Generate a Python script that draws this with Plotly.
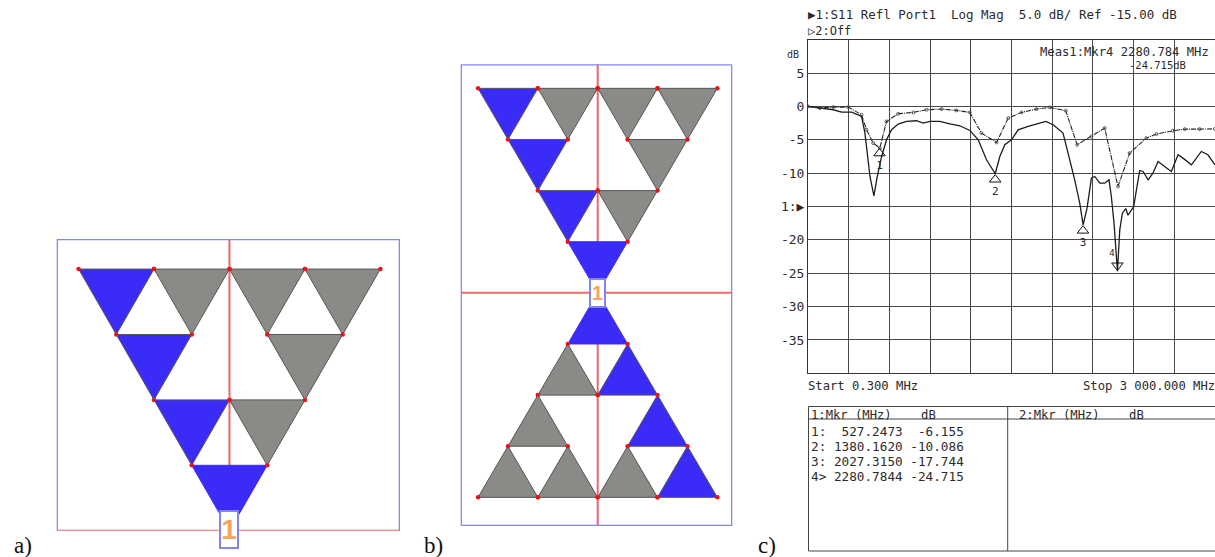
import plotly.graph_objects as go

W, H = 1215, 557

# measured S11 trace (MHz, dB)
solid_mhz = [0.3, 88, 187, 248, 322, 395, 420, 457, 486, 511, 543, 579, 616, 665, 727, 800, 849, 899, 972, 1046,
             1119, 1193, 1255, 1316, 1380, 1414, 1451, 1500, 1549, 1623, 1684, 1753, 1807, 1880, 1917, 1966, 2003,
             2028, 2057, 2089, 2114, 2151, 2187, 2219, 2236, 2256, 2281, 2298, 2317, 2342, 2359, 2384, 2401, 2421,
             2445, 2470, 2507, 2543, 2580, 2629, 2678, 2728, 2764, 2826, 2899, 2948, 3000]
solid_db = [0, -0.25, -0.5, -0.85, -0.85, -1.5, -4, -10.5, -13.4, -10.5, -7.5, -5, -3.5, -2.65, -2.25, -2.15, -2.5,
            -2.25, -2.25, -2.6, -2.9, -3.6, -5, -8, -10.09, -7.5, -5.75, -5, -3.5, -3, -2.6, -2.25, -2.75, -4, -7,
            -11, -14.5, -17.74, -15.25, -10.75, -10.5, -11.5, -11.5, -11, -13.5, -17.55, -24.7, -18.55, -16.05, -15.3,
            -16.3, -15.55, -15, -12.5, -9.6, -9.75, -11, -10, -8.25, -9, -9.75, -7.25, -7.75, -8.75, -6.75, -7.25,
            -8.75]

# simulated trace (MHz, dB)
dashed_mhz = [0.3, 88, 187, 297, 395, 432, 481, 530, 579, 665, 776, 874, 986, 1095, 1193, 1279, 1390, 1476, 1574,
              1684, 1782, 1900, 1984, 2089, 2187, 2285, 2371, 2494, 2568, 2690, 2777, 2887, 3000]
dashed_db = [0, -0.25, -0.1, -0.1, -1.25, -3.5, -5.5, -6.25, -2.25, -1.1, -0.9, -0.5, -0.4, -0.6, -0.9, -4, -5.4,
             -1.75, -0.9, -0.4, -0.15, -0.65, -5.75, -4.5, -3.25, -12, -7, -4.75, -4.15, -3.65, -3.4, -3.4, -3.35]

# analyser markers
marker_names = ["1", "2", "3", "4\u00a0\u00a0"]
marker_mhz = [527.2473, 1380.1620, 2027.3150, 2280.7844]
marker_db = [-6.155, -10.086, -17.744, -24.715]

db_ticks = [5, 0, -5, -10, -15, -20, -25, -30, -35]
db_labels = ["5", "0", "-5", "-10", "1:\u25b6", "-20", "-25", "-30", "-35"]

table_rows = ["1:  527.2473  -6.155", "2: 1380.1620 -10.086", "3: 2027.3150 -17.744", "4> 2280.7844 -24.715"]

# gasket triangles: row, centre and whether it is on the excited (blue) path
gasket_rows = [0, 0, 0, 0, 1, 1, 2, 2, 3]
gasket_cols = [-3, -1, 1, 3, -2, 2, -1, 1, 0]
gasket_top_blue = [True, False, False, False, True, False, True, False, True]
gasket_bottom_blue = [False, False, False, True, False, True, False, True, True]

BLUE = "#3a2cf6"
GRAY = "#8a8b87"
RED = "#e9686a"
FRAME = "#8484ee"
DOT = "#e8141c"
MONO = "DejaVu Sans Mono"
INK = "#2b2b2b"


def fx(px):
    return px / W


def fy(px):
    return 1 - px / H


def add_gasket(fig, xaxis, yaxis, blues, mirror=False):
    # row 0 is the wide edge, row 3 is the feed triangle
    sign = -1 if mirror else 1
    dots_x, dots_y = [], []
    for row, col, blue in zip(gasket_rows, gasket_cols, blues):
        top = 4 - row if mirror else row - 4
        tip = top + sign
        feed = row == 3
        fig.add_trace(go.Scatter(
            x=[col - 1, col + 1, col, col - 1], y=[top, top, tip, top],
            mode="lines", fill="toself", fillcolor=BLUE if blue else GRAY,
            line=dict(color=BLUE if feed else "#55565a", width=1),
            xaxis=xaxis, yaxis=yaxis, hoverinfo="skip", showlegend=False))
        dots_x += [col - 1, col + 1]
        dots_y += [top, top]
    fig.add_trace(go.Scatter(
        x=dots_x, y=dots_y, mode="markers", marker=dict(color=DOT, size=4.5),
        xaxis=xaxis, yaxis=yaxis, hoverinfo="skip", showlegend=False))


def line(fig, xs, ys, color, xaxis, yaxis, width=2.5):
    fig.add_trace(go.Scatter(x=xs, y=ys, mode="lines", line=dict(color=color, width=width), cliponaxis=False,
                             xaxis=xaxis, yaxis=yaxis, hoverinfo="skip", showlegend=False))


def text(px, py, s, size=12.3, family=MONO, color=INK, anchor="left", **kw):
    return dict(x=fx(px), y=fy(py), xref="paper", yref="paper", text=s, showarrow=False, xanchor=anchor,
                yanchor="middle", font=dict(family=family, size=size, color=color), borderpad=0, **kw)


fig = go.Figure()

# a) single gasket on a ground plane
AL, AR, AT = -4.58, 4.52, -4.46
line(fig, [0, 0], [AT, 0], RED, "x2", "y2", width=2)
line(fig, [AL, AR], [0, 0], RED, "x2", "y2", width=2)
line(fig, [AL, AL, AR, AR], [0, AT, AT, 0], FRAME, "x2", "y2")
add_gasket(fig, "x2", "y2", gasket_top_blue)

# b) bow-tie made of two gaskets
BL, BR, BT, BB = -4.58, 4.5, -4.47, 4.56
line(fig, [0, 0], [BT, BB], RED, "x3", "y3", width=2)
line(fig, [BL, BR], [0, 0], RED, "x3", "y3", width=2)
line(fig, [BL, BL, BR, BR, BL], [BB, BT, BT, BB, BB], FRAME, "x3", "y3")
add_gasket(fig, "x3", "y3", gasket_top_blue)
add_gasket(fig, "x3", "y3", gasket_bottom_blue, mirror=True)

# c) network analyser screen
fig.add_trace(go.Scatter(
    x=dashed_mhz, y=dashed_db, mode="lines+markers",
    line=dict(color="#222222", width=1.1, dash="5px,1px,1px,1px"),
    marker=dict(symbol="circle-open", size=3, color="#444444", line=dict(width=0.8)),
    hoverinfo="skip", showlegend=False))
fig.add_trace(go.Scatter(
    x=solid_mhz, y=solid_db, mode="lines", line=dict(color="#1c1c1c", width=1.3),
    hoverinfo="skip", showlegend=False))

# triangles hang from the marker point, marker 4 sits on top of it
TIP = 0.87
fig.add_trace(go.Scatter(
    x=marker_mhz[:3], y=[v - TIP for v in marker_db[:3]], mode="markers+text",
    text=marker_names[:3], textposition="bottom center",
    textfont=dict(family=MONO, size=11, color=INK),
    marker=dict(symbol="triangle-up-open", size=10, color="#111111", line=dict(width=1)),
    hoverinfo="skip", showlegend=False))
fig.add_trace(go.Scatter(
    x=marker_mhz[3:], y=[v + TIP for v in marker_db[3:]], mode="markers+text",
    text=marker_names[3:], textposition="top center",
    textfont=dict(family=MONO, size=9, color=INK),
    marker=dict(symbol="triangle-down-open", size=10, color="#111111", line=dict(width=1)),
    hoverinfo="skip", showlegend=False))

hidden = dict(visible=False, fixedrange=True)
grid = "#4a4a4a"

annotations = [
    text(807, 15, "\u25b61:S11 Refl Port1  Log Mag  5.0 dB/ Ref -15.00 dB".replace(" ", "\u00a0"), size=12.5),
    text(807, 31, "\u25b72:Off", size=12),
    text(786, 54, "dB", size=10),
    text(1039, 52, "Meas1:Mkr4 2280.784 MHz", size=12.2),
    text(1128, 65, "-24.715dB", size=10.5),
    text(807, 386, "Start 0.300 MHz", size=12.2),
    text(1082, 386, "Stop 3 000.000 MHz", size=12.2),
    text(810, 415, "1:Mkr (MHz)    dB".replace(" ", "\u00a0"), size=12.2),
    text(1018, 415, "2:Mkr (MHz)    dB".replace(" ", "\u00a0"), size=12.2),
    text(13, 545, "a)", size=23, family="Liberation Serif", color="#111111"),
    text(423, 545, "b)", size=23, family="Liberation Serif", color="#111111"),
    text(757, 545, "c)", size=23, family="Liberation Serif", color="#111111"),
    dict(x=0, y=0, xref="x2", yref="y2", text="<b>1</b>", showarrow=False, width=16, height=35, yshift=1,
         bgcolor="white", bordercolor=FRAME, borderwidth=2, borderpad=0,
         font=dict(family="Liberation Sans", size=28, color="#f4a460")),
    dict(x=0, y=0, xref="x3", yref="y3", text="<b>1</b>", showarrow=False, width=13, height=26,
         bgcolor="white", bordercolor=FRAME, borderwidth=2, borderpad=0,
         font=dict(family="Liberation Sans", size=20, color="#f4a460")),
]
for i, row in enumerate(table_rows):
    annotations.append(text(810, 431.7 + 15 * i, row.replace(" ", "\u00a0"), size=12.7))

table_edge = dict(color="#444444", width=1)
shapes = [
    dict(type="rect", xref="paper", yref="paper", x0=fx(808.5), x1=fx(1216), y0=fy(551), y1=fy(406.5), line=table_edge),
    dict(type="line", xref="paper", yref="paper", x0=fx(808.5), x1=1, y0=fy(419), y1=fy(419), line=table_edge),
    dict(type="line", xref="paper", yref="paper", x0=fx(1007.7), x1=fx(1007.7), y0=fy(551), y1=fy(406.5), line=table_edge),
]

fig.update_layout(
    width=W, height=H, margin=dict(l=0, r=0, t=0, b=0),
    autosize=False,
    paper_bgcolor="white", plot_bgcolor="rgba(0,0,0,0)",
    showlegend=False,
    xaxis=dict(domain=[fx(808), 1], range=[0.3, 3000], tick0=0.3, dtick=299.97, showticklabels=False, ticks="",
               showgrid=True, gridcolor=grid, gridwidth=1, zeroline=False,
               showline=True, linecolor="#333333", mirror=True, anchor="y"),
    yaxis=dict(domain=[fy(373.3), fy(39.7)], range=[-40, 10], tickvals=db_ticks, ticktext=db_labels,
               tickfont=dict(family=MONO, size=13, color=INK), ticks="",
               showgrid=True, gridcolor=grid, gridwidth=1, zeroline=False,
               showline=True, linecolor="#333333", mirror=True, anchor="x"),
    xaxis2=dict(domain=[fx(56.7), fx(400)], range=[AL, AR], anchor="y2", **hidden),
    yaxis2=dict(domain=[fy(530.7), fy(239)], range=[0, AT], anchor="x2", **hidden),
    xaxis3=dict(domain=[fx(460.7), fx(732.3)], range=[BL, BR], anchor="y3", **hidden),
    yaxis3=dict(domain=[fy(526), fy(64.3)], range=[BB, BT], anchor="x3", **hidden),
    annotations=annotations,
    shapes=shapes,
)

# the page's default body margin would push the figure off the window
fig.write_html("out.html", config=dict(displayModeBar=False),
               post_script="document.body.style.margin='0';document.body.style.overflow='hidden';")
